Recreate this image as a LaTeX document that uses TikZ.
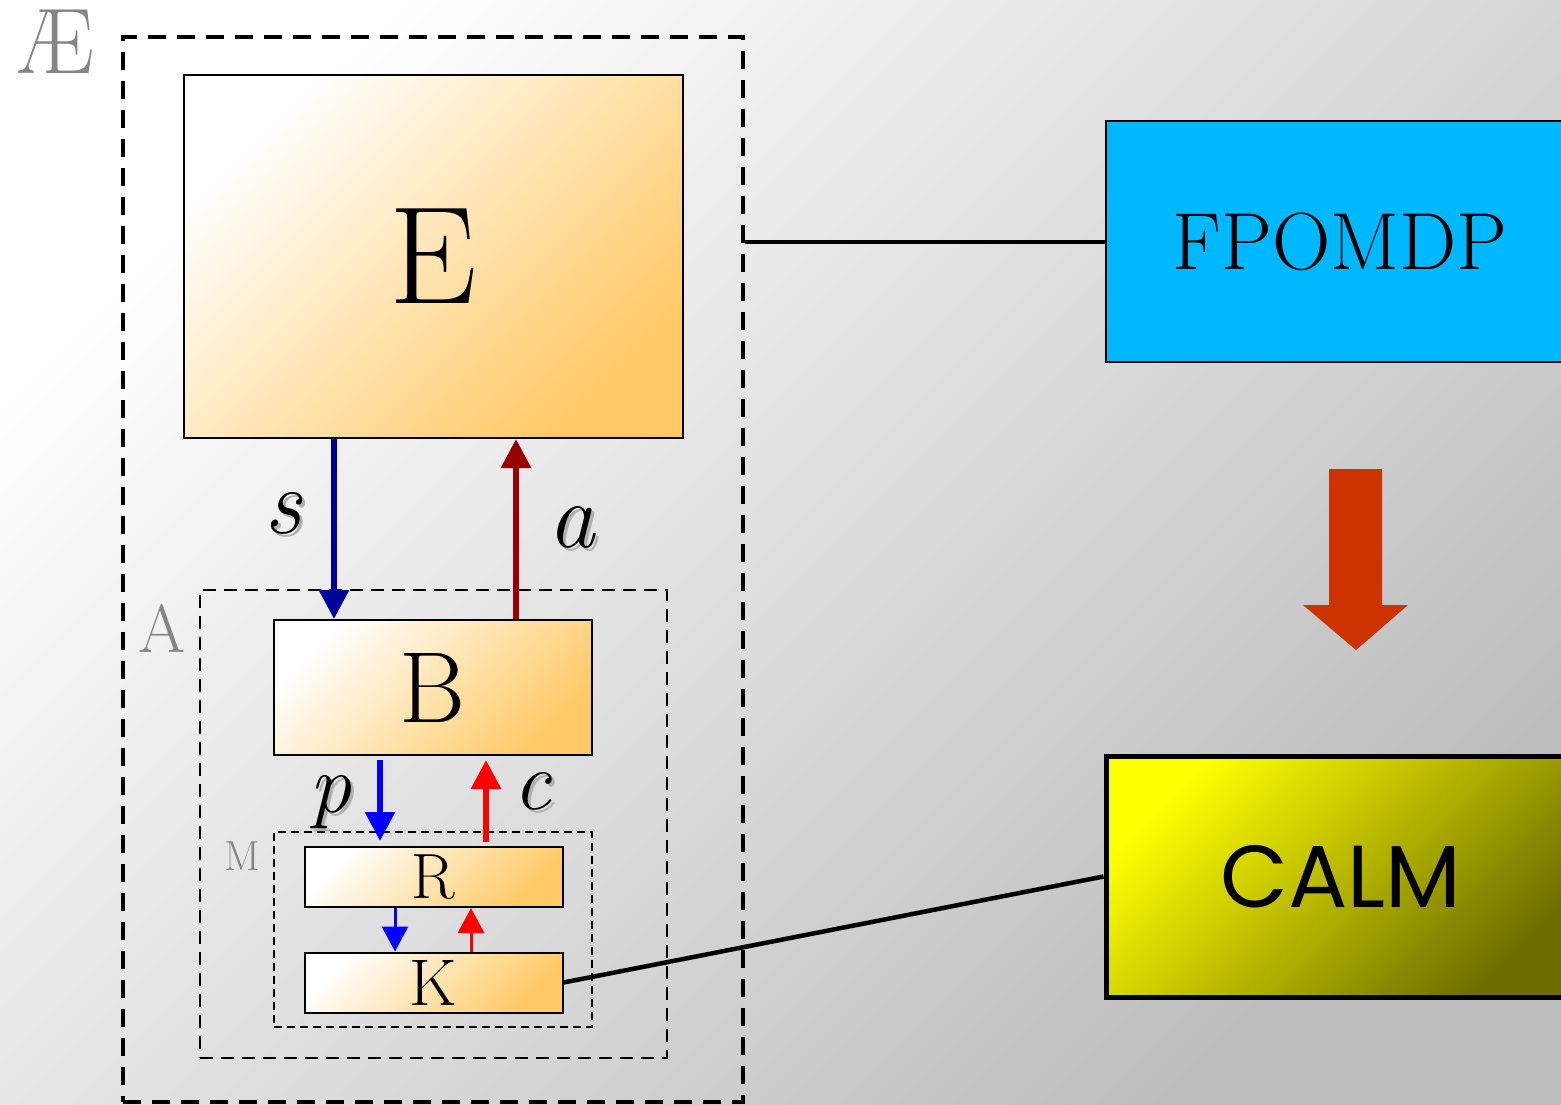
\documentclass[tikz,border=0pt]{standalone}
\usepackage{fontspec}
\newfontfamily\calmfont{Poppins}
\usetikzlibrary{arrows.meta}
\definecolor{eorange}{HTML}{FFC966}
\definecolor{bggrey}{HTML}{BDBDBD}
\definecolor{fpblue}{HTML}{00B8FF}
\definecolor{calmdark}{HTML}{6E6E00}
\definecolor{bigred}{HTML}{CC3300}
\definecolor{sblue}{HTML}{000099}
\definecolor{ared}{HTML}{990000}
\definecolor{labgrey}{HTML}{858585}
\definecolor{shadowgrey}{HTML}{B0B0B0}
\tikzset{
  orbox/.style={draw=black, line width=2pt, top color=white, bottom color=eorange, shading angle=45, inner sep=0pt},
  dashbox/.style={draw=black, inner sep=0pt},
  fs/.style={font=\fontsize{#1}{#1}\selectfont},
  bigtip/.style={line width=6pt, -{Triangle[width=29pt,length=29pt]}},
  smalltip/.style={line width=3pt, -{Triangle[width=26pt,length=25pt]}},
}
\begin{document}
\begin{tikzpicture}[x=1pt,y=-1pt]
\path[use as bounding box] (0,0) rectangle (1561,1104);
\begin{scope}
\clip (0,0) rectangle (1561,1104);
\path[top color=white, bottom color=bggrey, shading angle=45] (0,0) rectangle (1561,1104);

% outer dashed box
\node[dashbox, line width=3.5pt, dash pattern=on 18pt off 11pt, minimum width=620pt, minimum height=1065pt] (ae) at (433,569.5) {};
\node[text=labgrey, anchor=base, fs=93pt] (aelab) at (55,73) {Æ};

% E
\node[orbox, minimum width=499pt, minimum height=363pt, fs=139pt] (e) at (433.5,256.5) {E};

% A box
\node[dashbox, line width=2.2pt, dash pattern=on 13pt off 8pt, minimum width=467pt, minimum height=468pt] (abox) at (433.5,824) {};
\node[text=labgrey, anchor=base, fs=68pt] (alab) at (162,652) {A};

% B
\node[orbox, minimum width=318pt, minimum height=135pt, fs=101pt] (b) at (433,687.5) {B};

% M box
\node[dashbox, line width=1.8pt, dash pattern=on 8pt off 5pt, minimum width=318pt, minimum height=195pt] (mbox) at (433,929.5) {};
\node[text=labgrey, anchor=base, fs=42pt] (mlab) at (242,870) {M};

% R, K
\node[orbox, minimum width=258pt, minimum height=60pt, fs=64pt] (r) at (433.5,877) {R};
\node[orbox, minimum width=258pt, minimum height=60pt, fs=66pt] (k) at (433.5,982.5) {K};

% FPOMDP
\node[draw=black, line width=2pt, fill=fpblue, minimum width=468pt, minimum height=241pt, inner sep=0pt, fs=81pt] (fp) at (1340,241.5) {FPOMDP};

% CALM
\node[draw=black, line width=5pt, top color=yellow, bottom color=calmdark, shading angle=45, minimum width=470pt, minimum height=241pt, inner sep=0pt, font=\calmfont\fontsize{88}{88}\selectfont] (calm) at (1341,876.5) {CALM};

% big arrow
\fill[bigred] (1329,469) -- (1382,469) -- (1382,605) -- (1408,605) -- (1356,650) -- (1303,605) -- (1329,605) -- cycle;

% x positions of connectors
\coordinate (sx) at (334,0);
\coordinate (ax) at (516,0);
\coordinate (px) at (380,0);
\coordinate (cx) at (486,0);
\coordinate (rkx) at (395,0);
\coordinate (krx) at (471,0);

% s, a
\draw[bigtip, sblue] (e.south -| sx) -- (b.north -| sx);
\draw[bigtip, ared] (b.north -| ax) -- (e.south -| ax);
% p, c
\draw[bigtip, blue, shorten <=4pt, shorten >=5pt] (b.south -| px) -- (r.north -| px);
\draw[bigtip, red, shorten <=4pt, shorten >=4pt] (r.north -| cx) -- (b.south -| cx);
% R <-> K
\draw[smalltip, blue] (r.south -| rkx) -- (k.north -| rkx);
\draw[smalltip, red] (k.north -| krx) -- (r.south -| krx);

% labels with shadow
\node[anchor=base, text=shadowgrey, fs=93pt] (ssh) at (286,536) {\itshape s};
\node[anchor=base, fs=93pt] (slab) at (283,533) {\itshape s};
\node[anchor=base, text=shadowgrey, fs=93pt] (ash) at (575,550) {\itshape a};
\node[anchor=base, fs=93pt] (alab2) at (572,547) {\itshape a};
\node[anchor=base, text=shadowgrey, fs=84pt] (psh) at (333,815) {\itshape p};
\node[anchor=base, fs=84pt] (plab) at (330,812) {\itshape p};
\node[anchor=base, text=shadowgrey, fs=84pt] (csh) at (535,812) {\itshape c};
\node[anchor=base, fs=84pt] (clab) at (532,809) {\itshape c};

% connectors to the right
\draw[line width=4pt] (fp.west) -- (fp.west -| ae.east);
\draw[line width=4.5pt] (k.east) -- (calm.west);
\end{scope}
\end{tikzpicture}
\end{document}
